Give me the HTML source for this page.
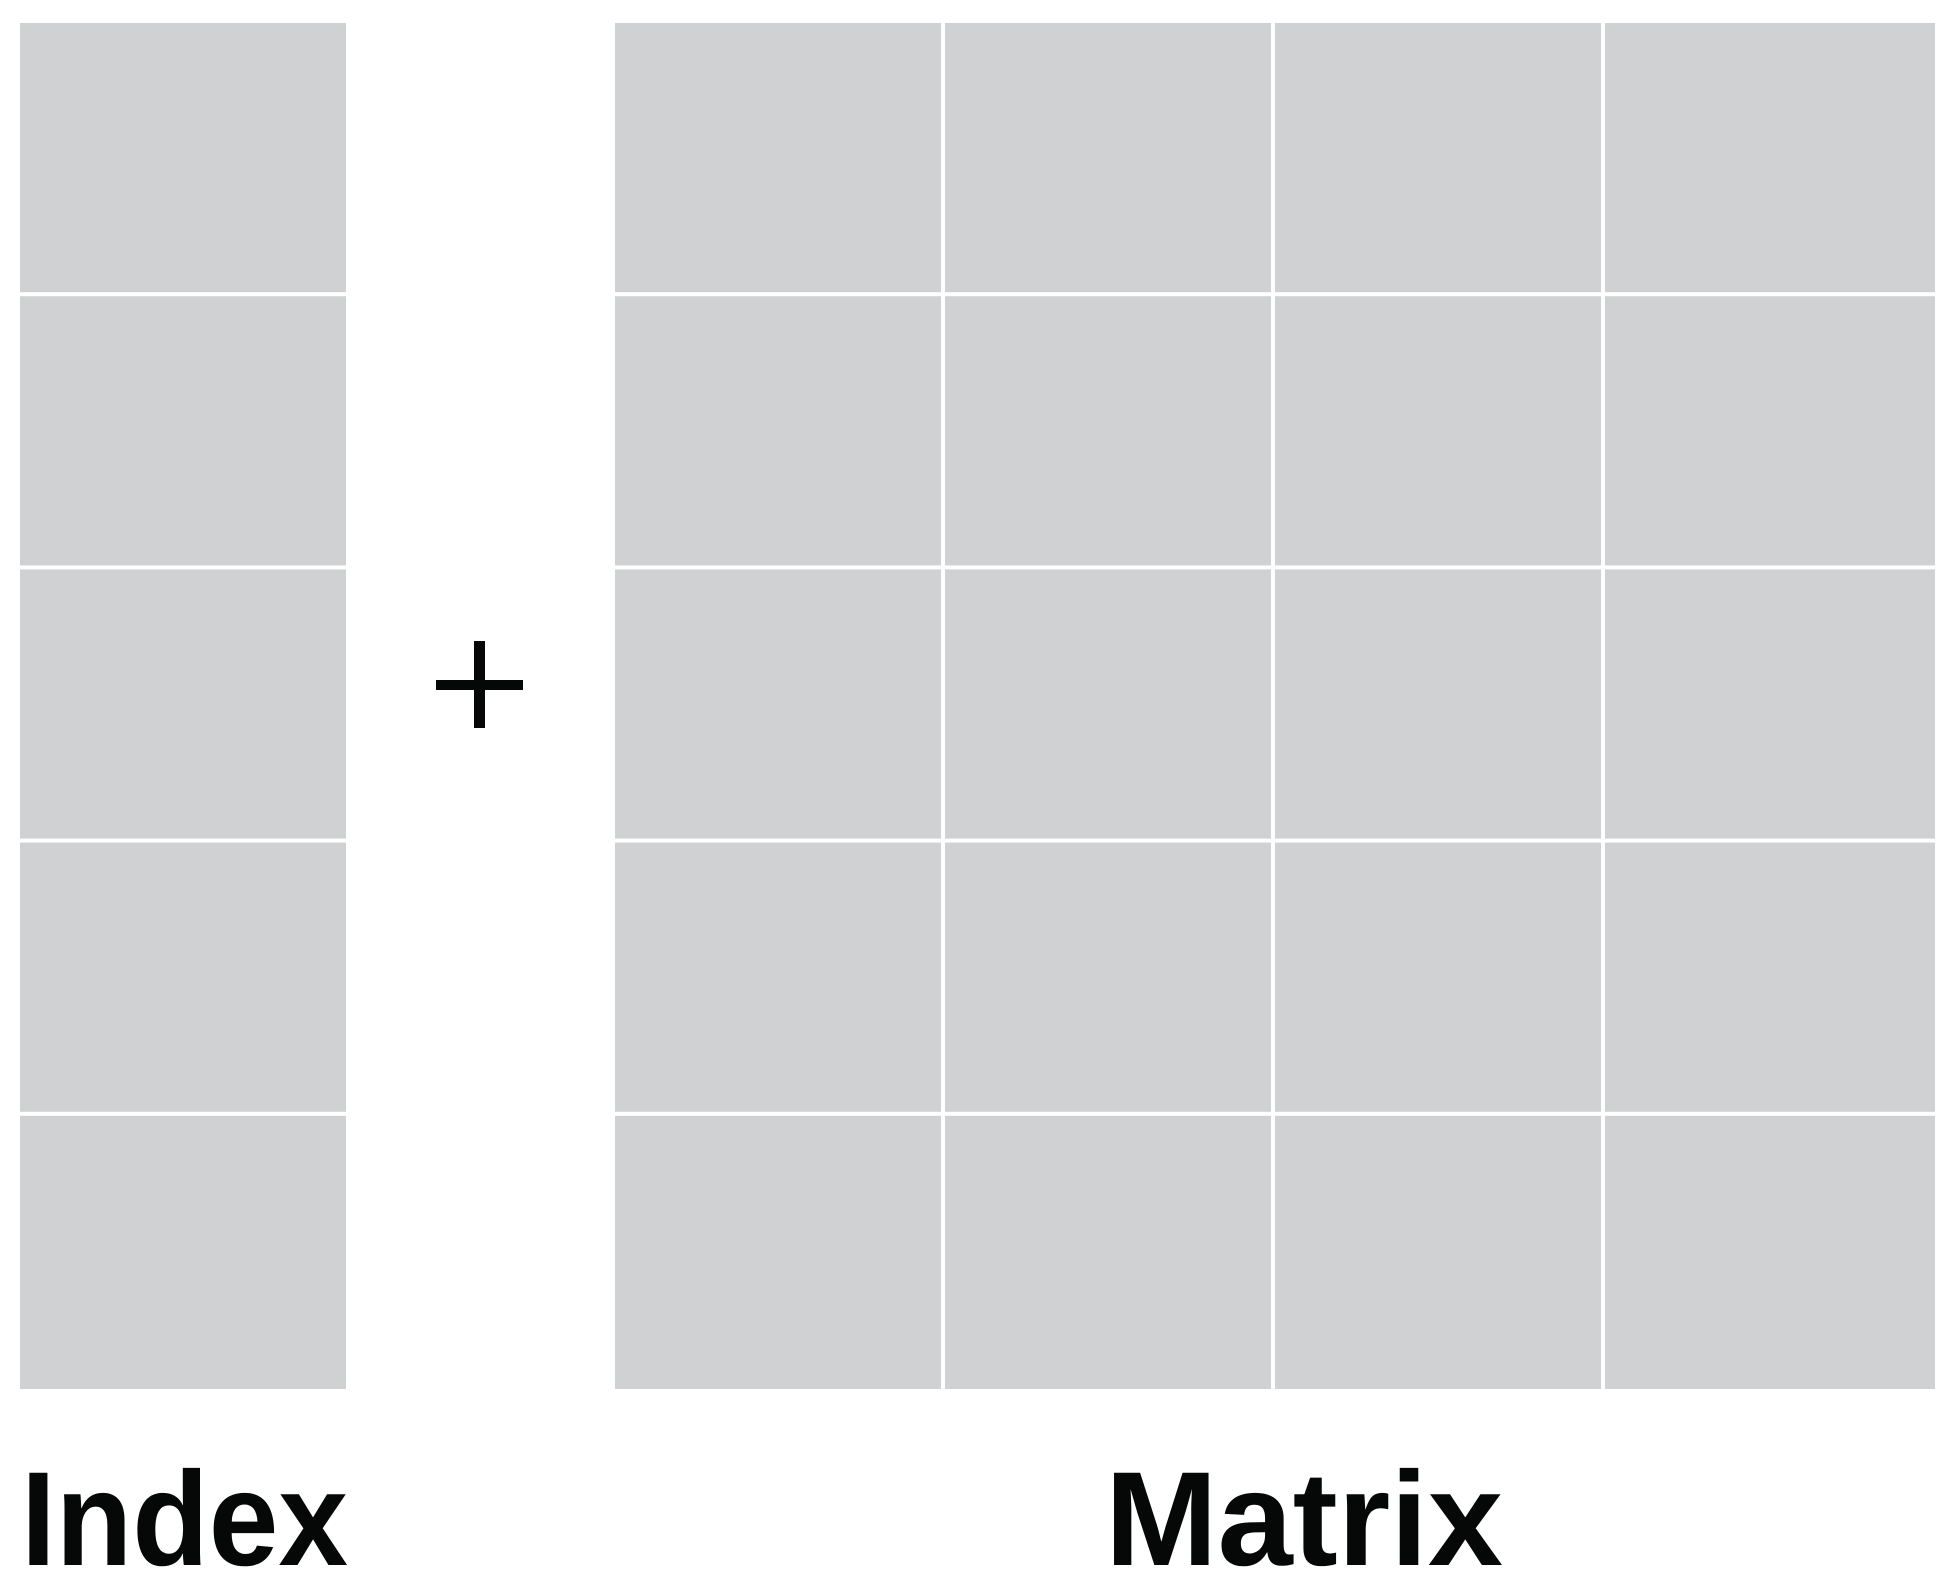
<!DOCTYPE html>
<html><head><meta charset="utf-8"><style>
html,body{margin:0;padding:0;background:#fff;}
svg{display:block;}
</style></head><body>
<svg id="chart" width="1956" height="1586" viewBox="0 0 1956 1586" xmlns="http://www.w3.org/2000/svg">
<g id="index-grid"></g>
<g id="matrix-grid"></g>
<g>
<rect x="436" y="680" width="87" height="10" fill="#060807"/>
<rect x="474" y="641" width="11" height="87" fill="#060807"/>
</g>
<text x="21" y="1565" font-family="Liberation Sans, sans-serif" font-weight="bold" font-size="134" textLength="327" lengthAdjust="spacingAndGlyphs" fill="#060807">Index</text>
<text x="1105" y="1565" font-family="Liberation Sans, sans-serif" font-weight="bold" font-size="134" textLength="398" lengthAdjust="spacingAndGlyphs" fill="#060807">Matrix</text>
</svg>
<script>
const indexRows = [1, 2, 3, 4, 5];
const matrixRows = [1, 2, 3, 4, 5];
const matrixCols = [1, 2, 3, 4];
const NS = 'http://www.w3.org/2000/svg';
const top0 = 23, bottom0 = 1389, gap = 4;
const rowH = (bottom0 - top0) / 5;
function cell(g, x, y, w, h, name) {
  const r = document.createElementNS(NS, 'rect');
  r.setAttribute('x', x); r.setAttribute('y', y);
  r.setAttribute('width', w); r.setAttribute('height', h);
  r.setAttribute('fill', '#d0d1d3');
  
  
  g.appendChild(r);
}
const ig = document.getElementById('index-grid');
indexRows.forEach((v, i) => {
  const y = top0 + i * rowH;
  cell(ig, 20, y, 326, rowH - (i < indexRows.length - 1 ? gap : 0), 'index-cell-' + v);
});
const mg = document.getElementById('matrix-grid');
const mx0 = 615, mx1 = 1935, colW = (mx1 - mx0) / matrixCols.length;
matrixRows.forEach((rv, i) => {
  matrixCols.forEach((cv, j) => {
    const x = mx0 + j * colW, y = top0 + i * rowH;
    cell(mg, x, y, colW - (j < matrixCols.length - 1 ? gap : 0), rowH - (i < matrixRows.length - 1 ? gap : 0), 'matrix-cell-r' + rv + '-c' + cv);
  });
});
</script>
</body></html>
